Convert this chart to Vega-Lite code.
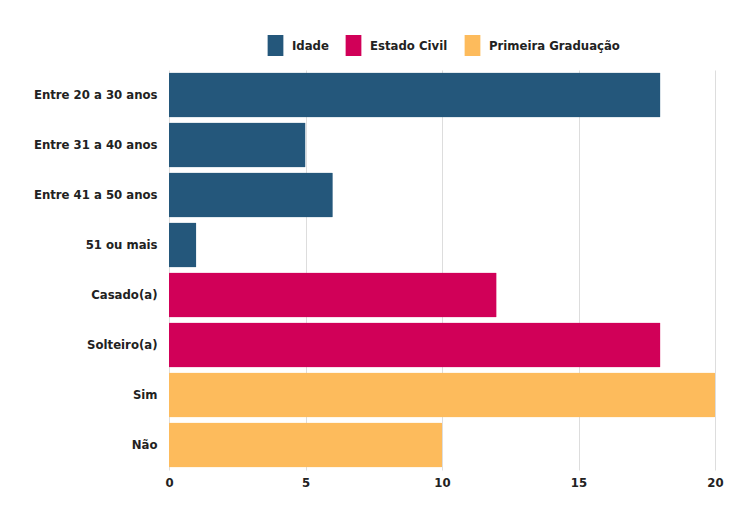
{
  "$schema": "https://vega.github.io/schema/vega-lite/v6.json",
  "width": 546,
  "height": 400,
  "autosize": {"type": "none"},
  "padding": {"left": 169, "top": 70, "right": 21, "bottom": 48},
  "background": "white",
  "data": {"values": [
    {"cat": "Entre 20 a 30 anos", "grupo": "Idade", "valor": 18},
    {"cat": "Entre 31 a 40 anos", "grupo": "Idade", "valor": 5},
    {"cat": "Entre 41 a 50 anos", "grupo": "Idade", "valor": 6},
    {"cat": "51 ou mais", "grupo": "Idade", "valor": 1},
    {"cat": "Casado(a)", "grupo": "Estado Civil", "valor": 12},
    {"cat": "Solteiro(a)", "grupo": "Estado Civil", "valor": 18},
    {"cat": "Sim", "grupo": "Primeira Graduação", "valor": 20},
    {"cat": "Não", "grupo": "Primeira Graduação", "valor": 10}
  ]},
  "mark": {"type": "bar", "cornerRadius": 1},
  "encoding": {
    "y": {"field": "cat", "type": "nominal", "sort": null, "title": null,
      "scale": {"paddingInner": 0.1, "paddingOuter": 0.05},
      "axis": {"domain": false, "ticks": false, "labelPadding": 12, "labelFontSize": 13, "labelFontWeight": "bold", "labelColor": "#222222", "labelFont": "DejaVu Sans Condensed, Liberation Sans"}},
    "x": {"field": "valor", "type": "quantitative", "title": null,
      "scale": {"domain": [0, 20], "nice": false},
      "axis": {"values": [0, 5, 10, 15, 20], "domain": false, "ticks": false, "labelPadding": 6, "labelFontSize": 13, "labelFontWeight": "bold", "labelColor": "#222222", "labelFont": "DejaVu Sans Condensed, Liberation Sans", "gridColor": "#dddddd", "labelFlush": false}},
    "color": {"field": "grupo", "type": "nominal", "title": null,
      "scale": {"domain": ["Idade", "Estado Civil", "Primeira Graduação"], "range": ["#24577b", "#d10058", "#fdbb5c"]},
      "legend": {"orient": "top", "direction": "horizontal", "offset": 14, "symbolType": "M-0.75,-1H0.75V1H-0.75Z", "symbolSize": 441, "symbolStrokeWidth": 0, "symbolOpacity": 1, "labelFontSize": 13, "labelFontWeight": "bold", "labelColor": "#222222", "labelFont": "DejaVu Sans Condensed, Liberation Sans", "columnPadding": 14, "labelOffset": 6}}
  },
  "config": {
    "view": {"stroke": null},
    "legend": {"layout": {"top": {"anchor": "middle"}}}
  }
}
